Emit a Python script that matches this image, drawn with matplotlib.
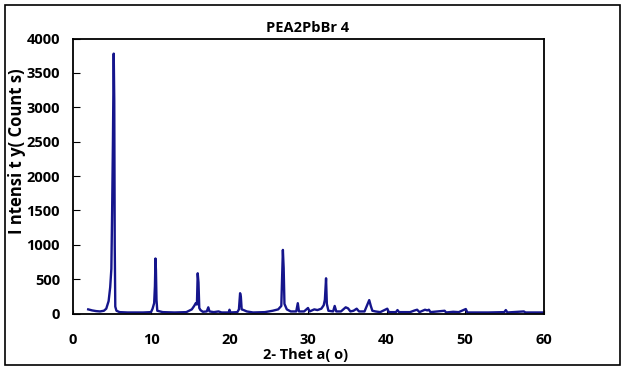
import matplotlib
matplotlib.use("Agg")
import matplotlib.pyplot as plt
from matplotlib.patches import Rectangle

# 2-theta (deg) and intensity (counts)
two_theta = [2.0, 2.5, 3.0, 3.5, 4.0, 4.3, 4.6, 4.8, 4.95, 5.05, 5.15, 5.25, 5.32, 5.38, 5.45, 5.6,
             6.0, 7.0, 8.0, 9.0, 10.0, 10.2, 10.4, 10.5, 10.57, 10.63, 10.7, 10.8, 11.5, 13.0,
             14.5, 15.2, 15.5, 15.7, 15.85, 15.95, 16.05, 16.15, 16.3, 16.6, 17.1, 17.3, 17.45,
             18.0, 18.6, 19.0, 19.9, 20.0, 20.1, 21.0, 21.2, 21.35, 21.45, 21.55, 21.8, 22.2,
             23.0, 24.5, 25.5, 26.2, 26.6, 26.8, 26.9, 27.0, 27.3, 27.8, 28.5, 28.7, 28.85, 29.5,
             30.0, 30.2, 30.8, 31.2, 31.7, 32.0, 32.15, 32.3, 32.4, 32.6, 33.2, 33.4, 33.6, 34.2,
             34.6, 34.8, 35.1, 35.4, 35.8, 36.2, 36.5, 37.2, 37.8, 38.0, 38.2, 38.6, 39.2, 40.1,
             40.3, 41.2, 41.4, 41.6, 43.0, 43.6, 43.9, 44.2, 44.9, 45.2, 45.4, 45.6, 47.4, 47.6,
             48.5, 49.2, 50.1, 50.3, 53.0, 55.0, 55.2, 55.4, 57.5, 57.7, 60.0]
counts = [60, 45, 35, 30, 40, 70, 180, 380, 650, 1500, 2500, 3780, 3100, 1000, 100, 40,
          20, 15, 15, 15, 20, 70, 150, 400, 800, 630, 200, 40, 20, 15,
          20, 60, 110, 150, 130, 585, 450, 80, 50, 25, 30, 90, 30,
          20, 30, 15, 15, 55, 15, 20, 60, 295, 240, 60, 50, 30,
          15, 20, 40, 60, 110, 925, 660, 140, 60, 30, 30, 150, 30, 30,
          80, 30, 60, 50, 70, 120, 200, 512, 140, 40, 30, 110, 30, 30,
          70, 90, 75, 30, 40, 70, 30, 30, 195, 110, 40, 30, 20, 70,
          20, 20, 50, 20, 20, 45, 55, 20, 55, 45, 55, 20, 40, 15,
          25, 20, 65, 15, 15, 20, 50, 15, 30, 15, 15]

x_ticks = [0, 10, 20, 30, 40, 50, 60]
y_ticks = [0, 500, 1000, 1500, 2000, 2500, 3000, 3500, 4000]

plt.rcParams['font.family'] = ['Open Sans', 'DejaVu Sans']

fig = plt.figure(figsize=(6.26, 3.70), dpi=100)
ax = fig.add_axes([72.5 / 626, 56.5 / 370, 471 / 626, 275 / 370])

ax.plot(two_theta, counts, color='#15158c', lw=1.7)

ax.set_xlim(0, 60)
ax.set_ylim(0, 4000)
ax.set_xticks(x_ticks)
ax.set_yticks(y_ticks)
ax.tick_params(axis='x', direction='in', length=3, pad=14, labelsize=10.5)
ax.tick_params(axis='y', direction='in', length=5, pad=9, labelsize=10.5)
for lab in ax.get_xticklabels() + ax.get_yticklabels():
    lab.set_fontweight('bold')
for s in ax.spines.values():
    s.set_linewidth(1.3)
    s.set_color('black')

ax.set_title('PEA2PbBr 4', fontsize=10.5, fontweight='bold', pad=5)
ax.set_xlabel('2- Thet a( o)', fontsize=10.5, fontweight='bold')
ax.xaxis.set_label_coords(0.495, -0.125)
ax.set_ylabel('I ntensi t y( Count s)', fontsize=12, fontweight='bold')
ax.yaxis.set_label_coords(-0.098, 0.59)

# outer frame around the whole chart
fig.patches.append(Rectangle((5 / 626, 5 / 370), 615 / 626, 360 / 370,
                             transform=fig.transFigure, fill=False,
                             edgecolor='black', lw=1.2))

fig.savefig('out.png', dpi=100)
